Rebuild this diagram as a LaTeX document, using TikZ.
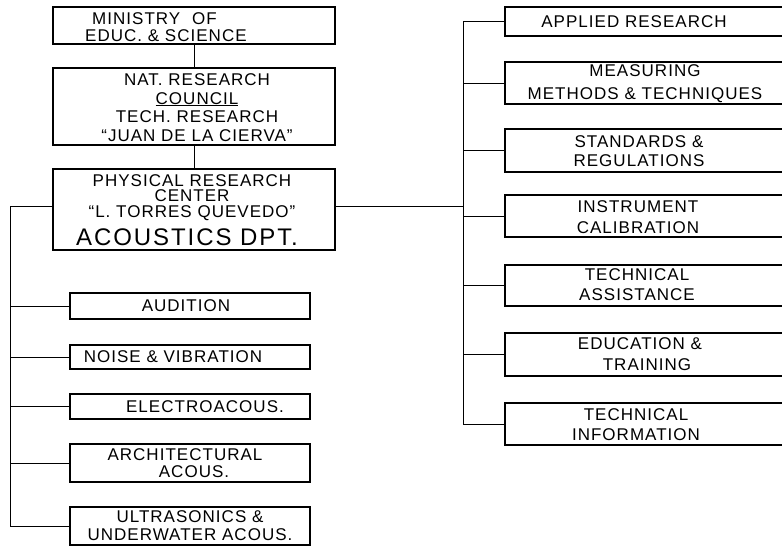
\documentclass[tikz,border=0pt]{standalone}
\usepackage{fontspec}
\setmainfont{Liberation Sans}[LetterSpace=6]
\newfontfamily\bigfont{Liberation Sans}[LetterSpace=8]
\begin{document}
\begin{tikzpicture}[x=1pt,y=-1pt,
  box/.style={draw, line width=1.1pt, inner sep=0pt, rectangle},
  txt/.style={inner sep=0pt, align=center, font=\fontsize{17}{#1}\selectfont},
  txt/.default=20,
  wire/.style={line width=0.9pt}]
\useasboundingbox (0,0) rectangle (782,547);
\clip (0,0) rectangle (782,547);
% main column
\node[box, minimum width=282, minimum height=37] (min) at (194,25.5) {};
\node[box, minimum width=282, minimum height=77] (nrc) at (194,106.5) {};
\node[box, minimum width=282, minimum height=81] (phys) at (194,209.5) {};
\node[txt=17, align=left, anchor=west] (min-t) at (85,27.5) {\hspace*{7pt}MINISTRY\hspace{12pt}OF\\EDUC. \& SCIENCE};
\node[txt=18.5] (nrc-t) at (197,107.5) {NAT. RESEARCH\\\underline{COUNCIL}\\TECH. RESEARCH\\``JUAN DE LA CIERVA''};
\node[txt=15.5] (phys-t) at (192,197.5) {PHYSICAL RESEARCH\\CENTER\\``L. TORRES QUEVEDO''};
\node[inner sep=0pt, font=\bigfont\fontsize{24}{28}\selectfont] (phys-a) at (187,237) {ACOUSTICS DPT.};
% left children
\node[box, minimum width=240, minimum height=26] (aud) at (190,306) {};
\node[box, minimum width=240, minimum height=24] (noise) at (190,357) {};
\node[box, minimum width=240, minimum height=25] (elec) at (190,406.5) {};
\node[box, minimum width=240, minimum height=38] (arch) at (190,463) {};
\node[box, minimum width=240, minimum height=38] (ultra) at (190,526) {};
\node[txt] (aud-t) at (186,306) {AUDITION};
\node[txt] (noise-t) at (173,357) {NOISE \& VIBRATION};
\node[txt] (elec-t) at (205,406.5) {ELECTROACOUS.};
\node[txt=17] (arch-t) at (185,463.5) {ARCHITECTURAL\\\hspace*{18pt}ACOUS.};
\node[txt=18] (ultra-t) at (190,526) {ULTRASONICS \& \\UNDERWATER ACOUS.};
% right children
\node[box, minimum width=295, minimum height=29] (appl) at (652.5,21.5) {};
\node[box, minimum width=295, minimum height=42] (meas) at (652.5,83) {};
\node[box, minimum width=295, minimum height=43] (stan) at (652.5,150.5) {};
\node[box, minimum width=295, minimum height=42] (inst) at (652.5,216) {};
\node[box, minimum width=295, minimum height=41] (tech) at (652.5,285.5) {};
\node[box, minimum width=295, minimum height=43] (edu) at (652.5,354.5) {};
\node[box, minimum width=295, minimum height=42] (info) at (652.5,424) {};
\node[txt] (appl-t) at (634,22) {APPLIED RESEARCH};
\node[txt=23] (meas-t) at (645,83.5) {MEASURING\\METHODS \& TECHNIQUES};
\node[txt=19] (stan-t) at (639,151.5) {STANDARDS \&\\REGULATIONS};
\node[txt=21] (inst-t) at (638,217.5) {INSTRUMENT\\CALIBRATION};
\node[txt=20] (tech-t) at (637,285) {TECHNICAL\\ASSISTANCE};
\node[txt=21] (edu-t) at (640,354.5) {EDUCATION \&\\\hspace*{14pt}TRAINING};
\node[txt=20] (info-t) at (636,425) {TECHNICAL\\INFORMATION};
% connectors
\draw[wire] (min.south) -- (nrc.north);
\draw[wire] (nrc.south) -- (phys.north);
\coordinate (lj) at (10,206);
\coordinate (rj) at (463,206);
\draw[wire] (lj -| phys.west) -- (lj) -- (lj |- ultra.west) -- (ultra.west);
\foreach \n in {aud,noise,elec,arch}
  \draw[wire] (\n.west) -- (\n.west -| lj);
\draw[wire] (rj -| phys.east) -- (rj);
\draw[wire] (appl.west -| rj) -- (info.west -| rj) -- (info.west);
\foreach \n in {appl,meas,stan,inst,tech,edu}
  \draw[wire] (\n.west) -- (\n.west -| rj);
\end{tikzpicture}
\end{document}
